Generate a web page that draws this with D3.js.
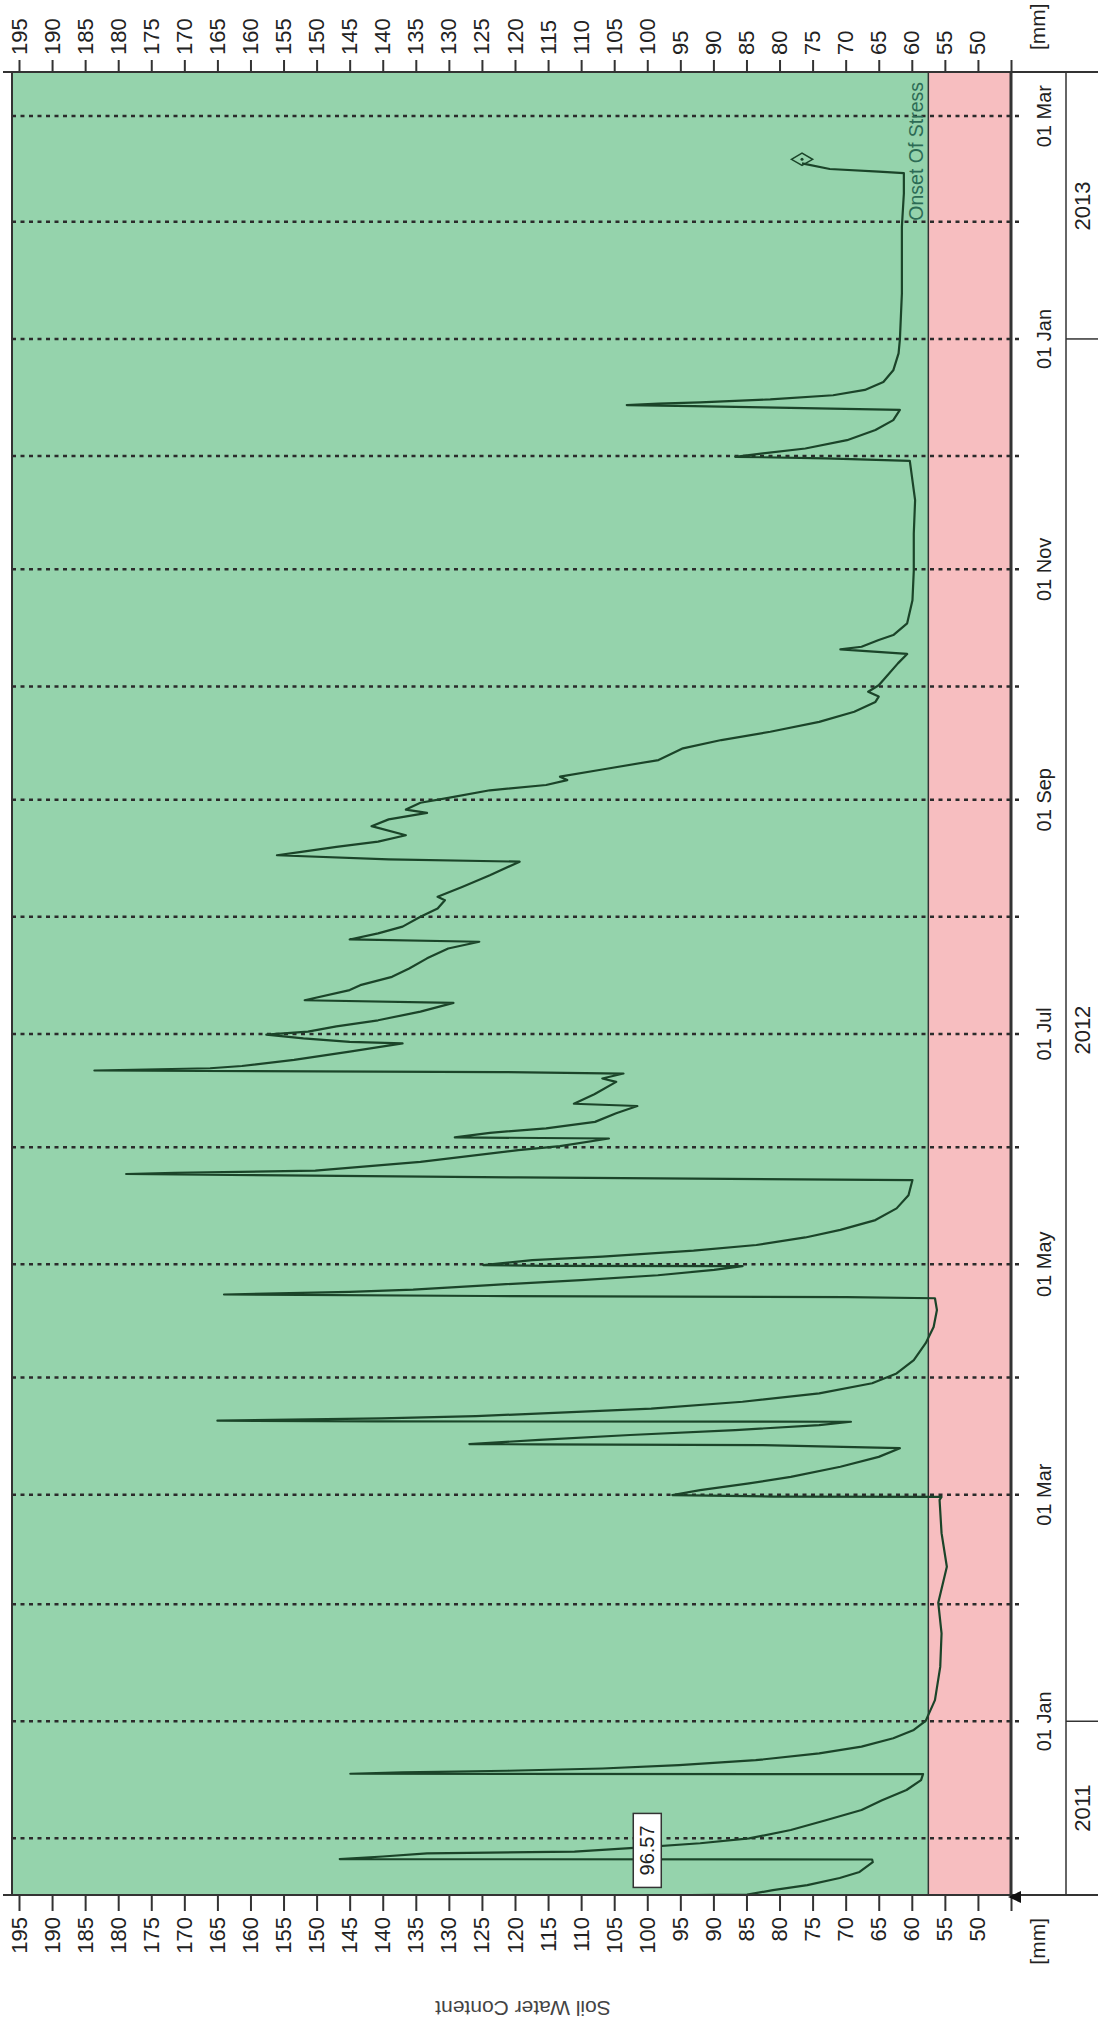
<!DOCTYPE html>
<html>
<head>
<meta charset="utf-8">
<script src="https://cdn.jsdelivr.net/npm/d3@7"></script>
<style>
  body { margin: 0; background: #fff; }
  text { font-family: "Liberation Sans", Arial, sans-serif; fill: #222; }
</style>
</head>
<body>
<script>
// soil water content series, days counted from 01 Dec 2011
var dayOffset = [-15.0, -14.9, -13.7, -12.4, -10.5, -8.9, -6.3, -5.6, -5.5, -4.8, -4.0, -3.5, -2.6, -1.3, 0.0, 2.2, 4.8, 7.5, 10.1, 12.8, 15.4, 17.0, 17.1, 17.5, 17.9, 18.5, 19.4, 20.7, 22.5, 24.3, 26.5, 28.7, 31.1, 36.6, 45.4, 54.3, 62.4, 71.9, 80.8, 89.6,
  90.4, 90.5, 90.9, 92.2, 94.0, 95.7, 98.4, 101.0, 103.3, 104.1, 104.3, 104.4, 105.5, 106.8, 108.1, 109.4, 110.3, 110.4, 110.6, 111.2, 111.8, 112.7, 113.8, 115.6, 117.8, 120.5, 123.1, 126.6, 131.1, 135.4, 139.9, 143.0,
  143.3, 143.6, 144.0, 144.7, 145.3, 146.5, 147.8, 149.1, 150.5, 151.5, 151.6, 151.8, 153.1, 154.0, 155.6, 157.1, 159.1, 161.1, 163.7, 166.8, 170.3, 174.3,
  175.0, 175.9, 176.2, 176.8, 179.1, 182.2, 183.3, 185.3, 185.6, 186.8, 188.0, 189.7, 192.0, 193.9, 194.5, 197.0, 200.3, 201.2, 202.5,
  202.9, 203.3, 203.9, 204.5, 206.1, 208.3, 210.5, 210.9, 211.8, 212.8, 213.6, 215.0, 216.6, 218.9, 221.2,
  221.9, 224.6, 225.9, 228.1, 230.3, 233.0, 235.6, 237.4, 238.0, 239.6, 241.4, 244.0, 246.2, 248.4, 249.3, 251.9, 255.0, 258.6,
  259.2, 260.3, 261.2, 262.5, 263.9, 265.6, 268.0, 269.8, 271.5, 272.4, 274.2, 275.5, 277.5, 278.9, 280.2, 281.1, 283.0, 285.5, 288.6, 290.8, 293.0, 295.6, 298.3, 300.9, 302.3, 303.6, 305.3, 307.5, 311.1, 313.6,
  314.8, 315.5, 317.3, 318.6, 321.7, 327.8, 335.6, 345.5, 354.3, 364.7,
  365.4, 365.8, 366.7, 368.0, 370.2, 372.9, 375.5, 378.2, 378.9, 379.2, 379.5, 379.9, 380.2, 381.0, 382.1, 383.5, 385.6, 388.7, 393.2, 396.9, 409.0, 426.7, 435.5, 440.9, 441.3, 442.0, 443.5];
var swc = [93.5, 84.9, 81.0, 75.8, 70.9, 67.9, 65.9, 66.0, 146.5, 140.0, 133.3, 111.0, 102.6, 92.0, 84.6, 78.3, 73.0, 67.6, 64.5, 60.8, 58.6, 58.3, 144.9, 137.0, 121.1, 106.8, 95.2, 83.6, 74.0, 67.6, 62.8, 59.7, 57.9, 56.5, 55.7, 55.5, 56.0, 54.7, 55.5, 55.8,
  55.5, 80.9, 96.2, 92.0, 84.6, 78.3, 70.8, 65.0, 61.8, 82.5, 116.3, 126.9, 116.3, 102.6, 86.7, 74.0, 69.2, 140.7, 165.0, 140.2, 125.9, 113.2, 99.4, 85.6, 74.0, 66.0, 62.3, 59.7, 57.9, 56.7, 56.2, 56.5,
  69.8, 124.3, 164.0, 145.0, 135.4, 123.8, 110.0, 98.4, 89.9, 85.6, 115.3, 124.8, 117.4, 106.8, 93.0, 83.5, 76.1, 70.8, 65.5, 62.3, 60.5, 59.9,
  119.5, 178.8, 171.4, 150.2, 134.3, 119.5, 113.2, 105.8, 129.1, 123.8, 115.3, 107.9, 104.7, 101.5, 111.1, 108.0, 104.7, 106.8, 103.6,
  122.2, 183.6, 166.1, 161.3, 153.4, 145.0, 137.0, 145.0, 152.0, 157.6, 151.3, 147.0, 140.7, 134.3, 129.3,
  151.8, 145.0, 143.4, 138.6, 136.0, 133.3, 130.1, 125.4, 145.0, 140.7, 137.0, 134.3, 131.7, 130.6, 131.7, 128.0, 123.8, 119.3,
  139.1, 156.0, 152.3, 147.0, 140.7, 136.5, 141.7, 139.1, 133.3, 136.5, 134.3, 130.1, 123.8, 115.3, 112.1, 113.2, 106.8, 98.3, 94.6, 88.8, 81.4, 74.0, 68.7, 65.5, 65.0, 66.6, 65.0, 63.9, 62.1, 60.7,
  70.8, 67.6, 65.0, 62.8, 60.7, 59.9, 59.7, 59.7, 59.5, 60.3,
  73.0, 86.7, 82.5, 76.1, 69.8, 65.5, 62.8, 61.8, 82.5, 93.0, 103.1, 98.3, 92.0, 81.4, 71.9, 67.1, 64.3, 62.8, 62.0, 61.8, 61.5, 61.5, 61.2, 61.2, 65.0, 72.4, 76.6];

var valueTicks = [195, 190, 185, 180, 175, 170, 165, 160, 155, 150, 145, 140, 135, 130, 125, 120, 115, 110, 105, 100, 95, 90, 85, 80, 75, 70, 65, 60, 55, 50];
var years = ["2011", "2012", "2013"];
var stressLevel = 57.5;
var stressLabel = "Onset Of Stress";
var tipValue = "96.57";
var axisTitle = "Soil Water Content";

var base = Date.UTC(2011, 11, 1);
function dayToDate(d) { return new Date(base + d * 864e5); }

var data = dayOffset.map(function(d, i) { return { date: dayToDate(d), value: swc[i] }; });

// the chart is built in its natural (landscape) frame and turned a quarter to the left
var W = 2026, H = 1098;
var svg = d3.select("body").append("svg").attr("width", H).attr("height", W);
var g = svg.append("g").attr("transform", "translate(0," + W + ") rotate(-90)");

var x = d3.scaleUtc()
  .domain([new Date(Date.UTC(2011, 10, 16)), new Date(Date.UTC(2013, 2, 12, 10))])
  .range([131, 1953]);
var y = d3.scaleLinear().domain([195, 45]).range([19, 1011]);

var plotL = x.range()[0], plotR = x.range()[1];
var plotT = 12, plotB = y(45);
var ys = y(stressLevel);

// background bands
g.append("rect").attr("x", plotL).attr("y", plotT).attr("width", plotR - plotL).attr("height", ys - plotT)
  .style("fill", "#95d3ac");
g.append("rect").attr("x", plotL).attr("y", ys).attr("width", plotR - plotL).attr("height", plotB - ys)
  .style("fill", "#f7bec0");

// month grid
var months = d3.utcMonth.range(new Date(Date.UTC(2011, 11, 1)), new Date(Date.UTC(2013, 2, 2)));
g.selectAll(".grid").data(months).enter().append("line")
  .attr("x1", function(d) { return x(d); }).attr("x2", function(d) { return x(d); })
  .attr("y1", plotT).attr("y2", plotB + 12)
  .style("stroke", "#2b2b2b").style("stroke-width", 2.5).style("stroke-dasharray", "4,4.5");

// stress line
g.append("line").attr("x1", plotL).attr("x2", plotR).attr("y1", ys).attr("y2", ys)
  .style("stroke", "#333").style("stroke-width", 1.5);

// series
var line = d3.line().x(function(d) { return x(d.date); }).y(function(d) { return y(d.value); });
g.append("path").datum(data).attr("d", line)
  .style("fill", "none").style("stroke", "#1b4429").style("stroke-width", 2.2).style("stroke-linejoin", "round");

var last = data[data.length - 1];
g.append("path").attr("d", d3.symbol(d3.symbolDiamond, 130)())
  .attr("transform", "translate(" + (x(last.date) + 4) + "," + y(last.value) + ")")
  .style("fill", "none").style("stroke", "#1b4429").style("stroke-width", 1.5);
g.append("circle").attr("cx", x(last.date) + 4).attr("cy", y(last.value)).attr("r", 1.5).style("fill", "#1b4429");

g.append("text").attr("x", plotR - 9).attr("y", ys - 5).attr("text-anchor", "end")
  .style("font-size", "19.5px").style("fill", "#2d6b55").text(stressLabel);

// value label box
var tipX = x(dayToDate(-3.2)), tipY = y(100);
g.append("rect").attr("x", tipX - 37).attr("y", tipY - 14).attr("width", 74).attr("height", 28)
  .style("fill", "#fff").style("stroke", "#333").style("stroke-width", 1.5);
g.append("text").attr("x", tipX).attr("y", tipY).attr("dy", "0.35em").attr("text-anchor", "middle")
  .style("font-size", "20px").text(tipValue);

// frame
function hline(x1, x2, yy, w) {
  g.append("line").attr("x1", x1).attr("x2", x2).attr("y1", yy).attr("y2", yy).style("stroke", "#333").style("stroke-width", w);
}
function vline(xx, y1, y2, w) {
  g.append("line").attr("x1", xx).attr("x2", xx).attr("y1", y1).attr("y2", y2).style("stroke", "#333").style("stroke-width", w);
}
vline(plotL, 3, H, 2);
vline(plotR + 1, 3, H, 2);
hline(plotL, plotR + 1, plotT, 2);
hline(plotL, plotR + 1, plotB, 3);
hline(plotL, plotR + 1, 1066, 1.5);

// value axes
var axL = g.append("g").attr("transform", "translate(" + plotL + ",0)")
  .call(d3.axisLeft(y).tickValues(valueTicks.concat([45])).tickSize(16).tickPadding(6)
    .tickFormat(function(d) { return d === 45 ? "" : d; }));
var axR = g.append("g").attr("transform", "translate(" + (plotR + 1) + ",0)")
  .call(d3.axisRight(y).tickValues(valueTicks.concat([45])).tickSize(12).tickPadding(5)
    .tickFormat(function(d) { return d === 45 ? "" : d; }));
[axL, axR].forEach(function(a) {
  a.select(".domain").remove();
  a.selectAll(".tick line").style("stroke", "#333").style("stroke-width", 2);
  a.selectAll(".tick text").style("font-size", "22px").style("fill", "#222")
    .style("font-family", "'Liberation Sans', Arial, sans-serif");
});

g.append("text").attr("x", plotL - 23).attr("y", 1038).attr("dy", "0.35em").attr("text-anchor", "end")
  .style("font-size", "21px").text("[mm]");
g.append("text").attr("x", plotR + 23).attr("y", 1038).attr("dy", "0.35em").attr("text-anchor", "start")
  .style("font-size", "21px").text("[mm]");

// corner arrow
g.append("path").attr("d", "M" + (plotL - 2) + "," + (plotB - 3) + "l6,13l-12,0z").style("fill", "#111");

// month labels
var fmt = d3.utcFormat("%d %b");
g.selectAll(".mlab").data(months.filter(function(d) { return d.getUTCMonth() % 2 === 0; })).enter()
  .append("text").attr("x", function(d) { return x(d); }).attr("y", 1044).attr("dy", "0.35em")
  .attr("text-anchor", "middle").style("font-size", "20px").text(function(d) { return fmt(d); });

// year band
var bounds = [x.domain()[0], new Date(Date.UTC(2012, 0, 1)), new Date(Date.UTC(2013, 0, 1)), x.domain()[1]];
years.forEach(function(yr, i) {
  var a = x(bounds[i]), b = x(bounds[i + 1]);
  g.append("text").attr("x", (a + b) / 2).attr("y", 1082).attr("dy", "0.35em").attr("text-anchor", "middle")
    .style("font-size", "22px").text(yr);
  if (i > 0) vline(a, 1066, H, 1.5);
});

// axis title
g.append("text").attr("transform", "translate(18,523) rotate(-90)").attr("text-anchor", "middle")
  .attr("dy", "0.35em").style("font-size", "21px").style("fill", "#444").text(axisTitle);
</script>
</body>
</html>
